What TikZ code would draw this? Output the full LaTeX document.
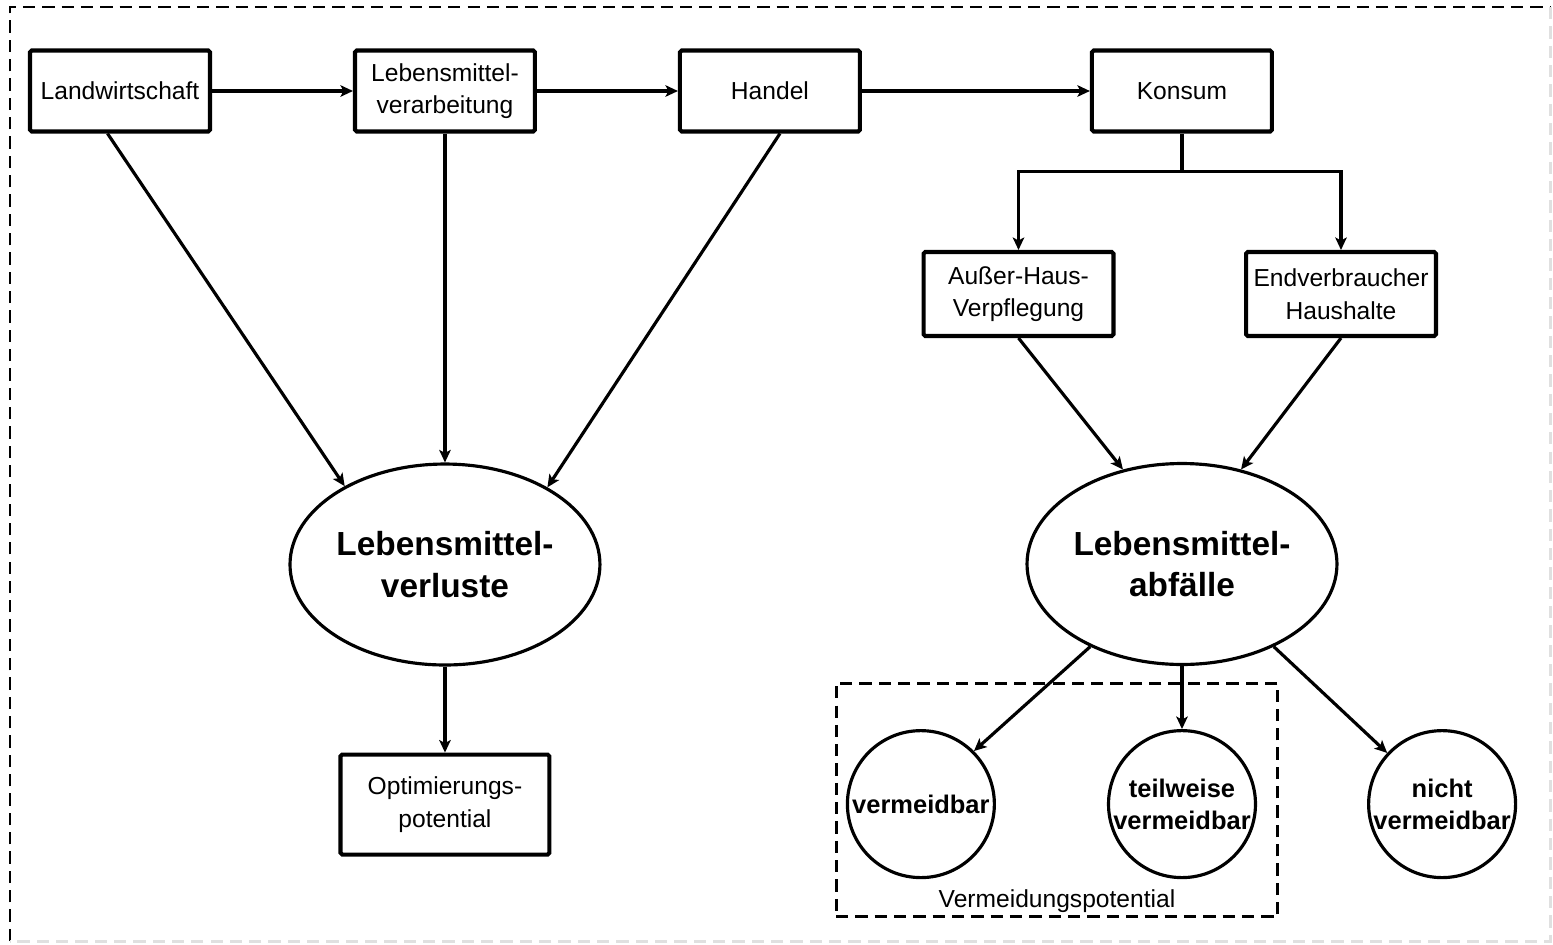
\documentclass[tikz,border=0pt]{standalone}
\usepackage{fontspec}
\setmainfont{Liberation Sans}
\usepackage{tikz}
\usetikzlibrary{arrows.meta,positioning,shapes.geometric}

\begin{document}
\begin{tikzpicture}[x=0.02cm, y=-0.02cm, >={Stealth[length=2.5mm,width=2.3mm,inset=0.6mm]},
    font=\fontsize{14}{18.5}\selectfont,
    box/.style={draw, line width=2.3pt, rounded corners=1pt, align=center, minimum width=3.6cm, minimum height=1.62cm, inner sep=2pt},
    blob/.style={draw, ellipse, line width=1.8pt, align=center, inner sep=0pt, minimum width=6.2cm, minimum height=4.02cm, font=\fontsize{19}{23.5}\selectfont\bfseries},
    bubble/.style={draw, circle, line width=1.8pt, align=center, inner sep=0pt, minimum size=2.94cm, font=\fontsize{14.5}{18}\selectfont\bfseries},
    flow/.style={->, line width=1.8pt},
    dashframe/.style={line width=1.7pt, dash pattern=on 7pt off 4pt}]
        \useasboundingbox (0,0) rectangle (1553,944);
        % outer frame
        \draw[dashframe] (10,941) -- (10,7) -- (1550,7);
        \draw[dashframe, black!12] (1550,7) -- (1550,941) -- (10,941);
        % supply chain
        \node[box] (landw) at (120,91) {Landwirtschaft};
        \node[box, right=2.82cm of landw] (verarb) {Lebensmittel-\\verarbeitung};
        \node[box, right=2.82cm of verarb] (handel) {Handel};
        \node[box, right=4.56cm of handel] (konsum) {Konsum};
        \node[box, minimum width=3.8cm, minimum height=1.68cm] (ausser) at (1018.5,294) {Außer-Haus-\\Verpflegung};
        \node[box, minimum width=3.8cm, minimum height=1.68cm] (endv) at (1341,294) {Endverbraucher\\Haushalte};
        \draw[flow] (landw) -- (verarb);
        \draw[flow] (verarb) -- (handel);
        \draw[flow] (handel) -- (konsum);
        \draw[line width=1.8pt] (konsum.south) -- ++(0,38) coordinate (split);
        \draw[flow] (split) -| (ausser.north);
        \draw[flow] (split) -| (endv.north);
        % losses
        \node[blob, below=6.58cm of verarb] (verluste) {Lebensmittel-\\verluste};
        \node[box, below=1.72cm of verluste, minimum width=4.18cm, minimum height=2cm] (optim) {Optimierungs-\\potential};
        \draw[flow] ([xshift=-0.25cm]landw.south) -- (verluste.142);
        \draw[flow] (verarb) -- (verluste);
        \draw[flow] ([xshift=0.2cm]handel.south) -- (verluste.37);
        \draw[flow] (verluste) -- (optim);
        % waste
        \node[blob] (abfall) at (1182,564) {Lebensmittel-\\abfälle};
        \draw[flow] (ausser.south) -- (abfall.122);
        \draw[flow] (endv.south) -- (abfall.58);
        \node[bubble, below=1.26cm of abfall] (teil) {teilweise\\vermeidbar};
        \node[bubble, left=2.22cm of teil] (verm) {vermeidbar};
        \node[bubble, right=2.2cm of teil] (nicht) {nicht\\vermeidbar};
        \draw[flow] (abfall.222) -- (verm.45);
        \draw[flow] (abfall) -- (teil);
        \draw[flow] (abfall.318) -- (nicht.137);
        \node[draw, dashframe, minimum width=8.84cm, minimum height=4.68cm] (potbox) at (1057,800) {};
        \node[above=0pt of potbox.south] (potlabel) {Vermeidungspotential};
\end{tikzpicture}
\end{document}
